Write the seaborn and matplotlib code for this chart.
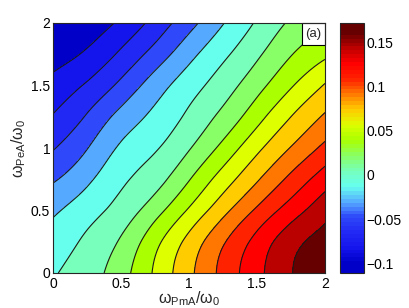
import numpy as np
import matplotlib
matplotlib.use("Agg")
import matplotlib.pyplot as plt
import matplotlib.tri as mtri
from matplotlib.colors import LinearSegmentedColormap, Normalize
from matplotlib.cm import ScalarMappable
from matplotlib.patches import Rectangle
import seaborn as sns

# ---- data (grid of values) ----
x_vals = [0.0, 0.25, 0.5, 0.75, 1.0, 1.25, 1.5, 1.75, 2.0]   # omega_PmA / omega_0
y_vals = [0.0, 0.25, 0.5, 0.75, 1.0, 1.25, 1.5, 1.75, 2.0]   # omega_PeA / omega_0
z_rows = [
    [-0.0066, 0.0049, 0.0233, 0.0507, 0.0793, 0.1064, 0.1317, 0.1534, 0.1720],
    [-0.0146, -0.0017, 0.0151, 0.0427, 0.0714, 0.0991, 0.1248, 0.1476, 0.1614],
    [-0.0257, -0.0120, 0.0022, 0.0233, 0.0505, 0.0781, 0.1043, 0.1278, 0.1481],
    [-0.0424, -0.0263, -0.0084, 0.0057, 0.0294, 0.0565, 0.0816, 0.1059, 0.1281],
    [-0.0592, -0.0410, -0.0199, -0.0066, 0.0114, 0.0356, 0.0616, 0.0845, 0.1059],
    [-0.0744, -0.0562, -0.0344, -0.0181, -0.0013, 0.0178, 0.0416, 0.0659, 0.0859],
    [-0.0877, -0.0733, -0.0535, -0.0314, -0.0127, 0.0043, 0.0243, 0.0464, 0.0673],
    [-0.1007, -0.0905, -0.0723, -0.0509, -0.0282, -0.0086, 0.0098, 0.0296, 0.0447],
    [-0.1110, -0.1030, -0.0901, -0.0693, -0.0466, -0.0234, -0.0028, 0.0156, 0.0287],
]
cbar_ticks = [-0.1, -0.05, 0, 0.05, 0.1, 0.15]
cbar_ticklabels = ["\u22120.1", "\u22120.05", "0", "0.05", "0.1", "0.15"]
axis_ticks = [0, 0.5, 1, 1.5, 2]
axis_ticklabels = ["0", "0.5", "1", "1.5", "2"]
panel_label = "(a)"

# band colours (lowest to highest)
band_colors = ["#0000C8", "#1414EC", "#2228F4", "#2E48FA", "#55AAFF", "#66FFEE",
               "#77FFBB", "#88FF66", "#AAFF00", "#DDFF00", "#FFCC00", "#FF7700",
               "#FF2200", "#FF0000", "#BB0000", "#660000"]

sns.set_style("ticks")
plt.rcParams['font.family'] = ['Liberation Sans', 'DejaVu Sans']
plt.rcParams['mathtext.fontset'] = 'custom'
plt.rcParams['mathtext.rm'] = 'Liberation Sans'
plt.rcParams['mathtext.it'] = 'Liberation Sans:italic'
plt.rcParams['mathtext.bf'] = 'Liberation Sans:bold'
plt.rcParams['contour.negative_linestyle'] = 'solid'

W, H = 409, 308
AX_W, AX_H = 272, 250
fig = plt.figure(figsize=(W / 100, H / 100), dpi=100)
ax = fig.add_axes([53 / W, 35 / H, AX_W / W, AX_H / H])

X, Y = np.meshgrid(np.array(x_vals), np.array(y_vals))
Z = np.array(z_rows)
nx, ny = len(x_vals), len(y_vals)
triangles = []
for j in range(ny - 1):
    for i in range(nx - 1):
        p00 = j * nx + i
        p10 = p00 + 1
        p01 = p00 + nx
        p11 = p01 + 1
        triangles.append([p00, p10, p11])
        triangles.append([p00, p11, p01])
tri = mtri.Triangulation(X.ravel(), Y.ravel(), triangles=np.array(triangles))
interp = mtri.CubicTriInterpolator(tri, Z.ravel(), kind='min_E')
refiner = mtri.UniformTriRefiner(tri)
tri_r, z_r = refiner.refine_field(Z.ravel(), triinterpolator=interp, subdiv=4)

zmin, zmax = Z.min(), Z.max()
n_bands = len(band_colors)
inner = np.linspace(zmin, zmax, n_bands + 1)[1:-1]
fill_levels = np.concatenate([[zmin - 1.0], inner, [zmax + 1.0]])

ax.tricontourf(tri_r, z_r, levels=fill_levels, colors=band_colors)
ax.tricontour(tri_r, z_r, levels=inner, colors='#1a1a1a', linewidths=0.8,
              linestyles='solid')

ax.set_xlim(0, 2)
ax.set_ylim(0, 2)
ax.set_xticks(axis_ticks)
ax.set_xticklabels(axis_ticklabels)
ax.set_yticks(axis_ticks)
ax.set_yticklabels(axis_ticklabels)
ax.tick_params(direction='in', length=3, width=0.6, top=True, right=True,
               labelsize=10, colors='#262626', labelcolor='black')
ax.tick_params(axis='x', pad=3)
ax.tick_params(axis='y', pad=2)
for s in ax.spines.values():
    s.set_color('#262626')
    s.set_linewidth(0.8)
    s.set_zorder(6)
ax.set_xlabel(r'ω$_{\rm PmA}$/ω$_{\rm 0}$', fontsize=11.5, labelpad=-1)
ax.set_ylabel(r'ω$_{\rm PeA}$/ω$_{\rm 0}$', fontsize=11.5, labelpad=2)

# panel label box flush with the top-right corner
bw, bh = 23 / AX_W, 22 / AX_H
ax.add_patch(Rectangle((1 - bw, 1 - bh), bw, bh, transform=ax.transAxes,
                       facecolor='white', edgecolor='black', lw=0.8, zorder=5,
                       clip_on=False))
ax.text(1 - bw / 2, 1 - bh / 2, panel_label, transform=ax.transAxes,
        ha='center', va='center', fontsize=9.5, zorder=6)

# colorbar
positions = [0.0] + [(k + 0.5) / n_bands for k in range(n_bands)] + [1.0]
cols = [band_colors[0]] + band_colors + [band_colors[-1]]
cmap = LinearSegmentedColormap.from_list("bands", list(zip(positions, cols)), N=64)
cax = fig.add_axes([340 / W, 35 / H, 24 / W, 250 / H])
sm = ScalarMappable(norm=Normalize(zmin, zmax), cmap=cmap)
cb = fig.colorbar(sm, cax=cax, ticks=cbar_ticks)
cb.ax.set_yticklabels(cbar_ticklabels)
cb.outline.set_edgecolor('#262626')
cb.outline.set_linewidth(0.8)
cax.yaxis.set_ticks_position('both')
cax.tick_params(direction='in', length=3, width=0.6, labelsize=10, pad=2,
                colors='#262626', labelcolor='black')

fig.savefig("out.png", dpi=100)
